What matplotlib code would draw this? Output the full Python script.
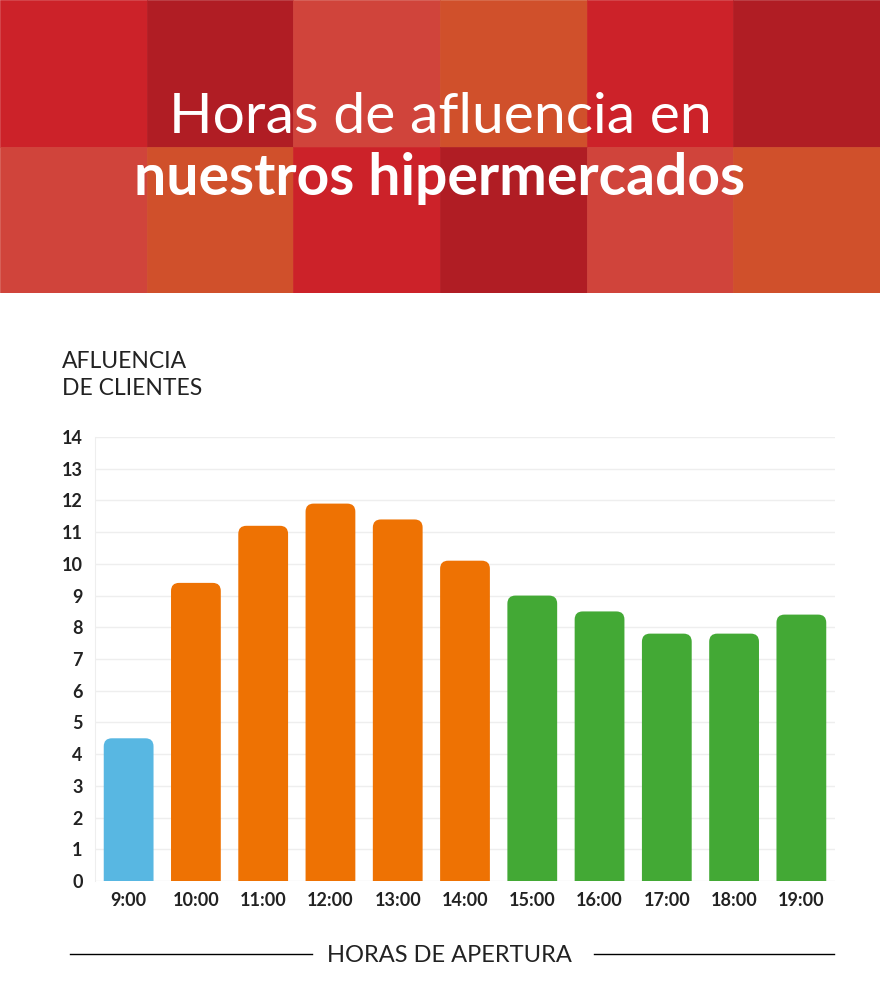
import matplotlib
matplotlib.use("Agg")
import matplotlib.pyplot as plt
from matplotlib.patches import FancyBboxPatch, Rectangle
from matplotlib.lines import Line2D

# ---- data ----
hours = ["9:00", "10:00", "11:00", "12:00", "13:00", "14:00",
         "15:00", "16:00", "17:00", "18:00", "19:00"]
afluencia = [4.5, 9.4, 11.2, 11.9, 11.4, 10.1, 9.0, 8.5, 7.8, 7.8, 8.4]
bar_colors = ["#58B7E2"] + ["#EE7203"] * 5 + ["#43A935"] * 5
y_ticks = list(range(0, 15))

title_line1 = "Horas de afluencia en"
title_line2 = "nuestros hipermercados"
ylabel_lines = ["AFLUENCIA", "DE CLIENTES"]
xlabel = "HORAS DE APERTURA"

header_colors = [
    ["#CC2229", "#B01D24", "#D0443B", "#D0502B", "#CC2229", "#B01D24"],
    ["#D0443B", "#D0502B", "#CC2229", "#B01D24", "#D0443B", "#D0502B"],
]

W, H = 880, 1006
fig = plt.figure(figsize=(W / 100, H / 100), dpi=100)
fig.patch.set_facecolor("white")
FONT = "Lato"
TXT = "#222222"

def fx(px):
    return px / W

def fy(py):
    return 1 - py / H

# ---- header ----
hax = fig.add_axes([0, fy(293), 1, 293 / H])
hax.set_xlim(0, 6)
hax.set_ylim(0, 2)
hax.axis("off")
for r, row in enumerate(header_colors):
    for c, col in enumerate(row):
        hax.add_patch(Rectangle((c, 1 - r), 1, 1, facecolor=col, edgecolor=col, lw=0.5))

fig.text(0.5, fy(133), title_line1, ha="center", va="baseline", color="white",
         fontsize=41, family=FONT, weight="normal")
fig.text(0.5, fy(195), title_line2, ha="center", va="baseline", color="white",
         fontsize=41, family=FONT, weight="bold")

# ---- chart ----
left, right, top, bottom = 95, 835, 437, 881
ax = fig.add_axes([fx(left), fy(bottom), (right - left) / W, (bottom - top) / H])
x = list(range(len(hours)))
bars = ax.bar(x, afluencia, width=0.74, color=bar_colors, zorder=3)
ax.set_xlim(-0.5, len(hours) - 0.5)
ax.set_ylim(0, 14)

# rounded top corners
x_unit = (right - left) / len(hours)
y_unit = (bottom - top) / 14
aspect = x_unit / y_unit
for b, col in zip(bars, bar_colors):
    b.set_visible(False)
    bx, bw, bh = b.get_x(), b.get_width(), b.get_height()
    p = FancyBboxPatch((bx, -1), bw, bh + 1,
                       boxstyle="round,pad=0,rounding_size=0.12",
                       mutation_aspect=aspect, facecolor=col, edgecolor="none",
                       zorder=3, clip_on=True)
    ax.add_patch(p)

ax.set_yticks(y_ticks)
ax.set_xticks(x)
ax.set_xticklabels(hours)
ax.grid(axis="y", color="#EEEEEE", lw=1, zorder=0)
for s in ["top", "right", "bottom"]:
    ax.spines[s].set_visible(False)
ax.spines["left"].set_color("#EEEEEE")
ax.tick_params(length=0, labelsize=13, labelcolor=TXT)
ax.tick_params(axis="y", pad=9)
ax.tick_params(axis="x", pad=8)
for lab in ax.get_xticklabels() + ax.get_yticklabels():
    lab.set_family(FONT)
    lab.set_weight("bold")

fig.text(fx(62), fy(368), ylabel_lines[0], ha="left", va="baseline", color=TXT,
         fontsize=16.5, family=FONT)
fig.text(fx(62), fy(395), ylabel_lines[1], ha="left", va="baseline", color=TXT,
         fontsize=16.5, family=FONT)

# ---- bottom label ----
fig.text(fx(449), fy(962), xlabel, ha="center", va="baseline", color=TXT,
         fontsize=17, family=FONT)
fig.add_artist(Line2D([fx(70), fx(312)], [fy(954), fy(954)], color="black", lw=1))
fig.add_artist(Line2D([fx(594), fx(834)], [fy(954), fy(954)], color="black", lw=1))

fig.savefig("out.png", dpi=100, facecolor="white")
